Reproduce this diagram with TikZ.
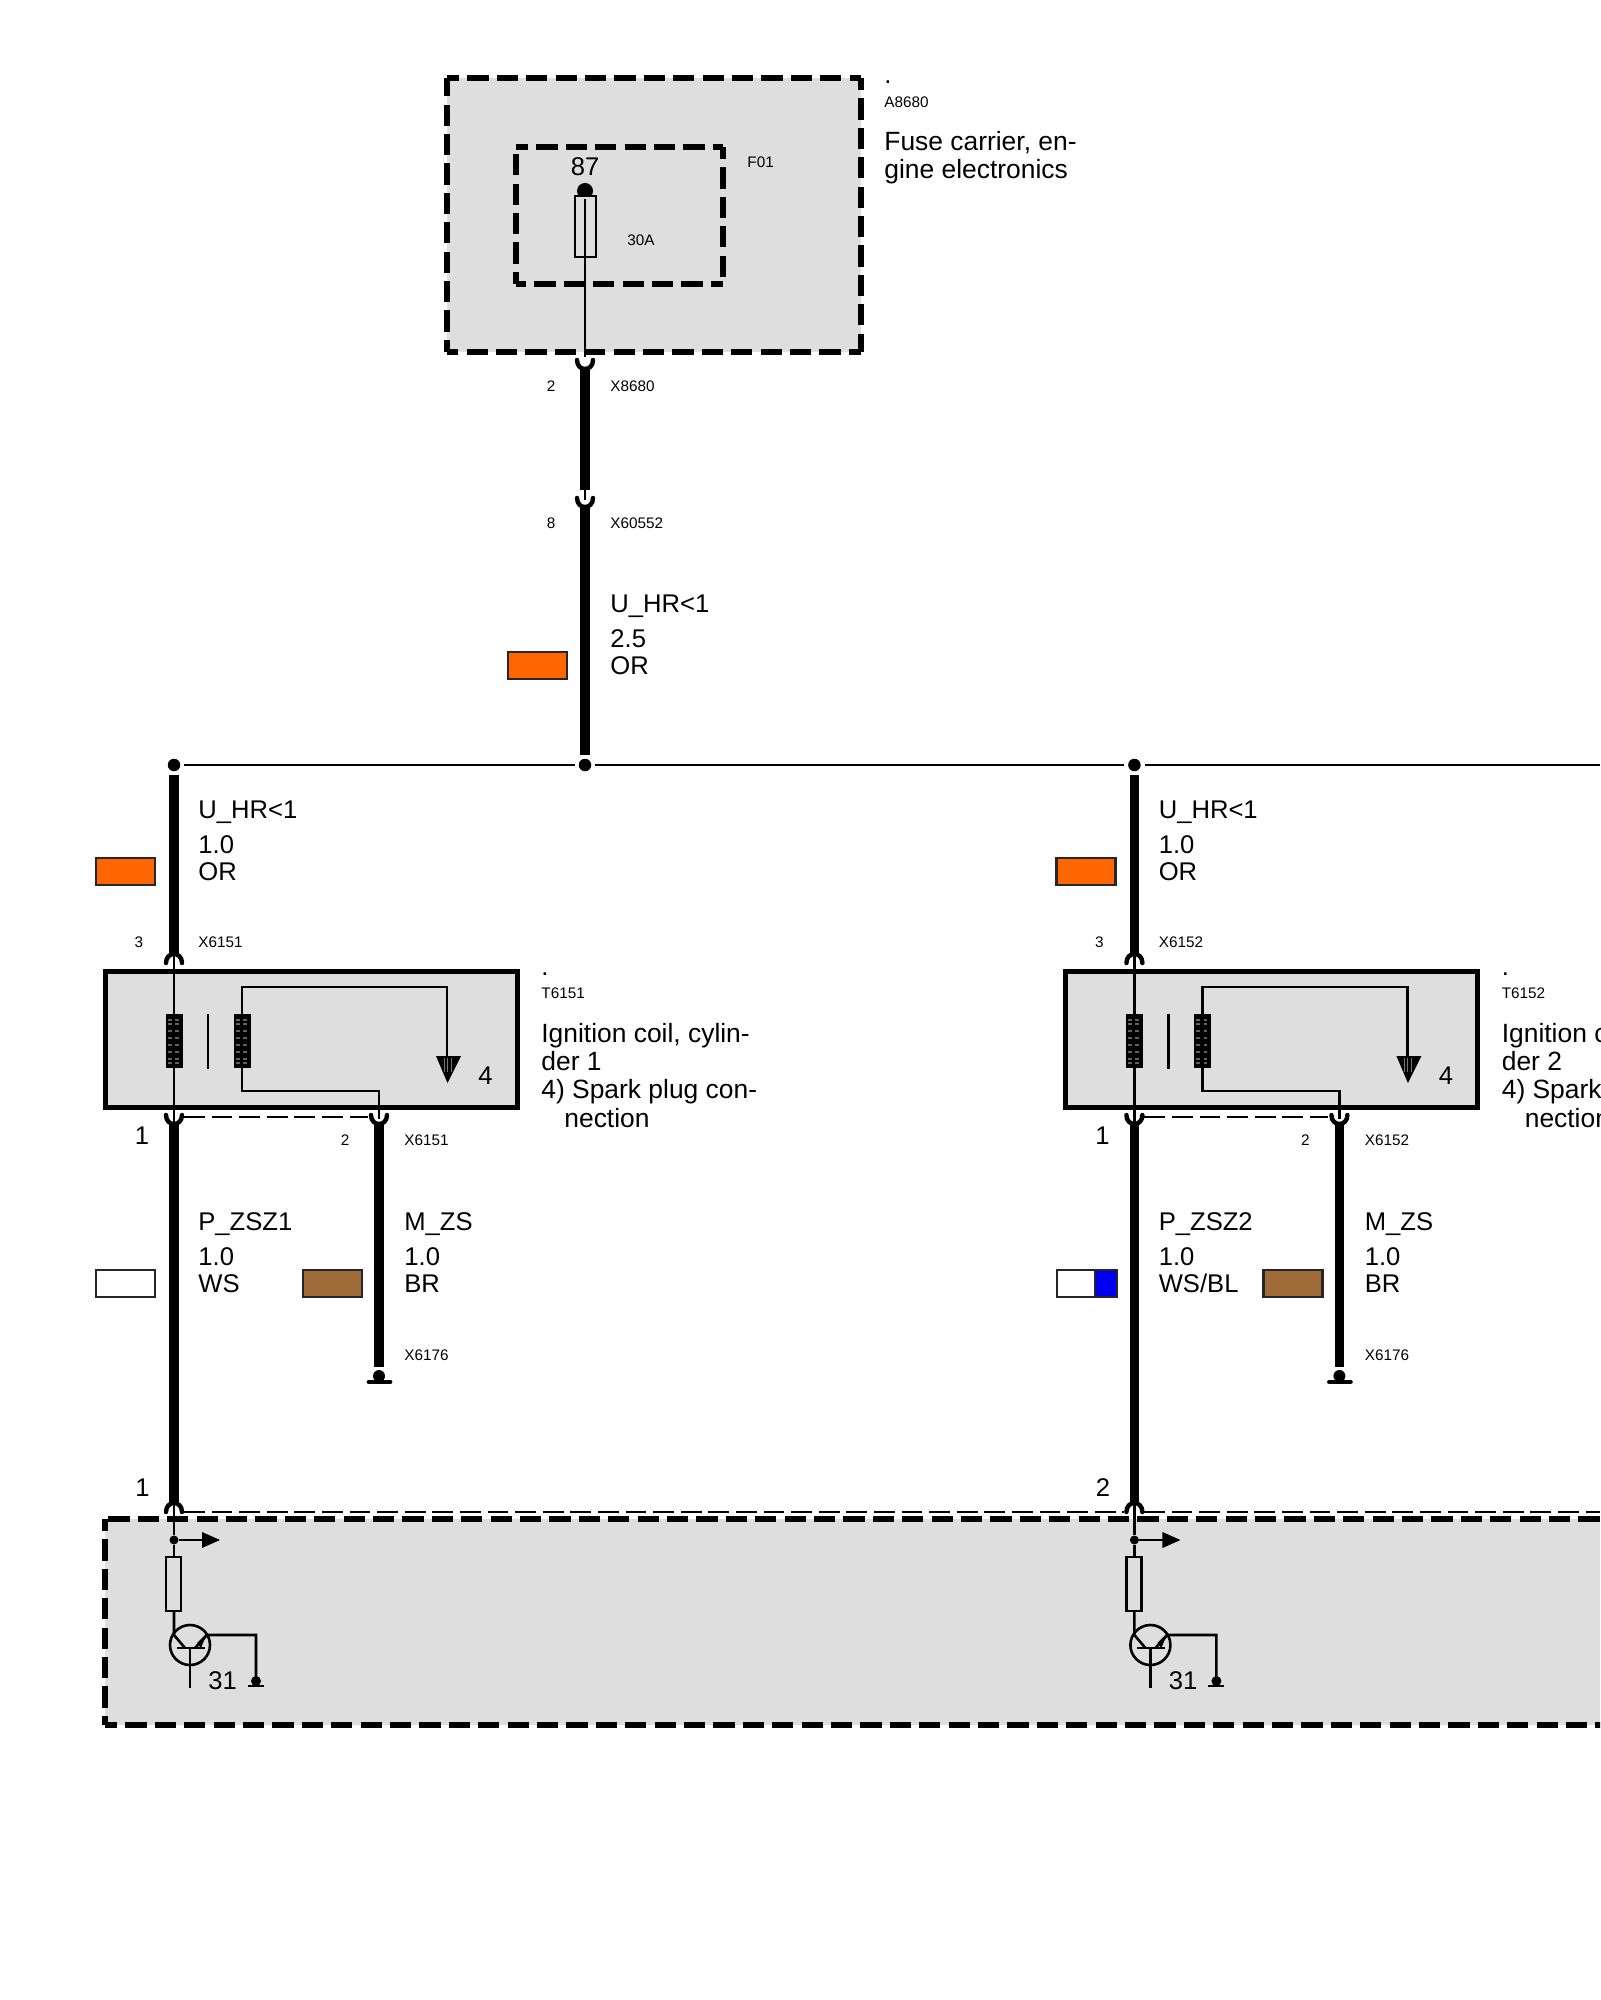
\documentclass[tikz,border=0pt]{standalone}
\usepackage{fontspec}
\setmainfont{Liberation Sans}
\definecolor{boxgray}{HTML}{DEDEDE}
\definecolor{wireor}{HTML}{FF6600}
\definecolor{wirebr}{HTML}{A06A36}
\definecolor{wirebl}{HTML}{0000F0}
\tikzset{
  lbl/.style={inner sep=0pt,anchor=base west,yshift=-0.4pt,font=\fontsize{12.8}{14.15}\selectfont},
  lblc/.style={lbl,anchor=base},
  para/.style={inner sep=0pt,anchor=north west,align=left,font=\fontsize{13.2}{14.15}\selectfont},
  sml/.style={inner sep=0pt,anchor=base west,yshift=-0.25pt,font=\fontsize{7.65}{9}\selectfont},
  smlc/.style={sml,anchor=base},
  heavy/.style={line width=4.6pt,line cap=butt},
  thinw/.style={line width=1.1pt},
  midw/.style={line width=1.3pt},
  cupline/.style={line width=2.2pt,line cap=round},
  dashb/.style={line width=2.6pt,dash pattern=on 10.6pt off 4.1pt,dash phase=4.5pt},
  shield/.style={line width=1.1pt,dash pattern=on 10.4pt off 3.4pt},
  swatch/.style={line width=1.1pt,draw=black!85},
  dotn/.style={circle,fill=black,inner sep=0pt,minimum size=#1},
  junc/.style={circle,fill=black,inner sep=0pt,minimum size=6.25pt,outer sep=2pt}
}
\newcommand{\cupdn}[2]{% opens downward, wire arrives from above
  \draw[cupline] (#1-8,#2) .. controls (#1-8,#2-12) and (#1+8,#2-12) .. (#1+8,#2);}
\newcommand{\cupup}[2]{% opens upward, wire leaves below
  \draw[cupline] (#1-8,#2) .. controls (#1-8,#2+12) and (#1+8,#2+12) .. (#1+8,#2);}
\newcommand{\dbox}[5]{% name x1 y1 x2 y2 : four separately dashed sides
  \coordinate (#1a) at (#2,#3); \coordinate (#1b) at (#4,#3);
  \coordinate (#1c) at (#4,#5); \coordinate (#1d) at (#2,#5);
  \fill[boxgray] (#1a) rectangle (#1c);
  \draw[dashb] (#1a) -- (#1b);
  \draw[dashb] (#1b) -- (#1c);
  \draw[dashb] (#1c) -- (#1d);
  \draw[dashb] (#1d) -- (#1a);}
\newcommand{\coilblock}[1]{% centre x
  \fill[black] (#1-8.5,1014) rectangle (#1+8.5,1068);
  \foreach \yy in {1020,1024,1031,1038,1045,1052,1059,1063}{
    \draw[black!62,line width=0.9pt] (#1-6,\yy) -- (#1-2,\yy) (#1+1,\yy) -- (#1+5,\yy);}
}
\newcommand{\column}[7]{% #1 prefix, #2 xshift pt, #3 connector, #4 T-id, #5 number, #6 signal,#7 lower colour name
\begin{scope}[xshift=#2]
  % upper wire
  \node[junc] (#1dot) at (174,765) {};
  \coordinate (#1up) at (174,953);
  \draw[heavy] (#1dot) -- (#1up);
  \fill[wireor,draw=black!85,line width=1.1pt] (96,858) rectangle (155,885);
  \node[lbl] (#1a1) at (198,818) {U\_HR<1};
  \node[lbl] (#1a2) at (198,853) {1.0};
  \node[lbl] (#1a3) at (198,880) {OR};
  \node[smlc] (#1p3) at (139,947) {3};
  \node[sml] (#1x3) at (198,947) {#3};
  % coil body
  \coordinate (#1ta) at (105,971); \coordinate (#1tc) at (517,1107);
  \draw[line width=2.5pt,fill=boxgray] (#1ta) rectangle (#1tc);
  \cupdn{174}{963}
  \coordinate (#1pri) at (174,955);
  \coordinate (#1prb) at (174,1122);
  \draw[midw] (#1pri) -- (#1prb);
  \coilblock{174}
  \coordinate (#1s1) at (208,1014); \coordinate (#1s2) at (208,1069);
  \draw[midw] (#1s1) -- (#1s2);
  \coilblock{242}
  \coordinate (#1sa) at (242,1040);
  \coordinate (#1sb) at (447,1060);
  \draw[midw] (#1sa) |- (447,987) -- (#1sb);
  \fill (436,1056) -- (461,1056) -- (447.5,1083) -- cycle;
  \foreach \xx in {444,447.5,451}{\draw[black!55,line width=0.5pt] (\xx,1058) -- (\xx,1072);}
  \node[lbl] (#1sp4) at (478,1084) {4};
  \coordinate (#1sc) at (379,1119);
  \draw[midw] (#1sa) |- (379,1091) -- (#1sc);
  \coordinate (#1d1) at (184,1117); \coordinate (#1d2) at (368,1117);
  \draw[shield] (#1d1) -- (#1d2);
  \cupup{174}{1115}
  \cupup{379}{1115}
  % text for the coil
  \node[lbl,yshift=0.4pt] (#1tdot) at (541,975) {.};
  \node[sml] (#1tid) at (541,998) {#4};
  \node[para] (#1tname) at (541,1022) {\strut Ignition coil, cylin-\\der #5\\4) Spark plug con-\\\hspace*{11.5pt}nection};
  % lower wires
  \node[lblc] (#1p1) at (142,1144) {1};
  \node[smlc] (#1p2) at (345,1145) {2};
  \node[sml] (#1x2) at (404,1145) {#3};
  \coordinate (#1lo1) at (174,1123);
  \coordinate (#1lo2) at (174,1504);
  \draw[heavy] (#1lo1) -- (#1lo2);
  \coordinate (#1m1) at (379,1123);
  \node[circle,fill=black,inner sep=0pt,minimum size=6pt,outer sep=1.5pt] (#1gd) at (379,1376) {};
  \draw[heavy] (#1m1) -- (#1gd);
  \coordinate (#1gl) at (369,1382); \coordinate (#1gr) at (390,1382);
  \draw[line width=2.4pt,line cap=round] (#1gl) -- (#1gr);
  \node[lbl] (#1b1) at (198,1230) {#6};
  \node[lbl] (#1b2) at (198,1265) {1.0};
  \node[lbl] (#1b3) at (198,1292) {#7};
  \node[lbl] (#1c1t) at (404,1230) {M\_ZS};
  \node[lbl] (#1c2t) at (404,1265) {1.0};
  \node[lbl] (#1c3t) at (404,1292) {BR};
  \node[sml] (#1x6) at (404,1360) {X6176};
  \fill[wirebr,draw=black!85,line width=1.1pt] (303,1270) rectangle (362,1297);
\end{scope}}
\newcommand{\ecu}[3]{% prefix, xshift, pin
\begin{scope}[xshift=#2]
  \node[lblc] (#1pin) at (142.5,1496) {#3};
  \cupdn{174}{1512}
  \coordinate (#1e1) at (174,1505);
  \node[dotn=4.5pt] (#1ej) at (174,1540) {};
  \draw[midw] (#1e1) -- (#1ej);
  \draw[midw] (#1ej) -- (204,1540);
  \fill (202,1532) -- (220,1540) -- (202,1548) -- cycle;
  \draw[midw] (166,1557) rectangle (181,1611);
  \draw[midw] (#1ej) -- (174,1557);
  \draw[midw] (174,1611) -- (174,1635) -- (185,1648);
  \node[circle,draw,line width=1.3pt,inner sep=0pt,minimum size=20pt] (#1tr) at (190,1645) {};
  \draw[midw] (177,1648) -- (205,1648);
  \draw[midw] (190,1648) -- (190,1688);
  \draw[midw] (195,1648) -- (207,1635) -- (256,1635) -- (256,1678);
  \fill (207,1633) -- (201,1648) -- (197,1643) -- cycle;
  \node[lbl] (#1n31) at (208,1689) {31};
  \node[dotn=5pt] (#1eg) at (256,1681) {};
  \coordinate (#1gl) at (248,1686); \coordinate (#1gr) at (264,1686);
  \draw[line width=1.3pt] (#1gl) -- (#1gr);
\end{scope}}
\begin{document}
\begin{tikzpicture}[x=0.5pt,y=-0.5pt]
\useasboundingbox (0,0) rectangle (1600,2000);
\clip (0,0) rectangle (1600,2000);
% fuse carrier
\dbox{oa}{447}{78}{861}{352}
\dbox{ib}{516}{147}{723}{284}
\node[dotn=8pt] (fdot) at (585,191) {};
\draw[midw,fill=boxgray] (575,196) rectangle (596,257);
\coordinate (f2) at (585,357);
\draw[thinw] (fdot) -- (f2);
\node[lblc] (pin87) at (585,175) {87};
\node[sml] (f01) at (747,167) {F01};
\node[sml] (a30) at (627,245) {30A};
\node[lbl,yshift=0.4pt] (adot) at (884,84) {.};
\node[sml] (aid) at (884,107) {A8680};
\node[para] (aname) at (884,130) {\strut Fuse carrier, en-\\gine electronics};
% top wire
\cupup{585}{360}
\coordinate (w1) at (585,370); \coordinate (w2) at (585,490);
\draw[heavy] (w1) -- (w2);
\node[smlc] (p2) at (551,391) {2};
\node[sml] (x1) at (610,391) {X8680};
\coordinate (w3) at (585,500);
\draw[thinw] (w2) -- (w3);
\cupup{585}{498}
\node[smlc] (p8) at (551,528) {8};
\node[sml] (x2) at (610,528) {X60552};
\coordinate (w4) at (585,508);
\node[junc] (jn) at (585,765) {};
\draw[heavy] (w4) -- (jn);
\node[lbl] (t1) at (610,612) {U\_HR<1};
\node[lbl] (t2) at (610,647) {2.5};
\node[lbl] (t3) at (610,674) {OR};
\fill[wireor,draw=black!85,line width=1.1pt] (508,652) rectangle (567,679);
% columns
\column{A}{0pt}{X6151}{T6151}{1}{P\_ZSZ1}{WS}
\column{B}{480.2pt}{X6152}{T6152}{2}{P\_ZSZ2}{WS/BL}
\draw[swatch,fill=white] (96,1270) rectangle (155,1297);
\fill[wirebl] (1095,1270) rectangle (1116,1297);
\draw[swatch] (1057,1270) rectangle (1117,1297);
\draw[swatch] (1095,1270) -- (1095,1297);
% bus
\coordinate (busend) at (1600,765);
\draw[line width=1.3pt] (Adot) -- (jn);
\draw[line width=1.3pt] (jn) -- (Bdot);
\draw[line width=1.3pt] (Bdot) -- (busend);
% ECU
\fill[boxgray] (105,1519) rectangle (1620,1725);
\draw[dashb] (1620,1519) -- (105,1519);
\draw[dashb] (105,1519) -- (105,1725);
\draw[dashb] (105,1725) -- (1620,1725);
\coordinate (sh1) at (184,1512); \coordinate (sh2) at (1124,1512);
\coordinate (sh3) at (1144,1512); \coordinate (sh4) at (1600,1512);
\draw[shield] (sh1) -- (sh2);
\draw[shield] (sh3) -- (sh4);
\ecu{E}{0pt}{1}
\ecu{F}{480.2pt}{2}
\end{tikzpicture}
\end{document}
